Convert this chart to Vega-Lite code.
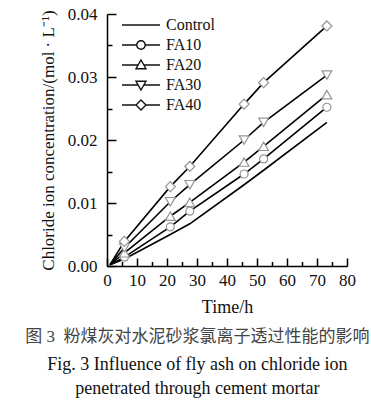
{
  "$schema": "https://vega.github.io/schema/vega-lite/v6.json",
  "width": 240,
  "height": 252,
  "autosize": {"type": "none"},
  "padding": {"left": 107, "top": 14, "right": 24, "bottom": 143},
  "background": "white",
  "config": {"view": {"stroke": null}, "font": "Liberation Serif", "axis": {"grid": false}},
  "title": {
    "text": "图 3\u00a0\u00a0粉煤灰对水泥砂浆氯离子透过性能的影响",
    "subtitle": ["Fig. 3 Influence of fly ash on chloride ion", "penetrated through cement mortar"],
    "orient": "bottom",
    "anchor": "middle",
    "frame": "bounds",
    "font": "Liberation Serif, Noto Sans CJK SC",
    "fontSize": 17,
    "fontWeight": "normal",
    "color": "#444444",
    "subtitleFont": "Liberation Serif",
    "subtitleFontSize": 18,
    "subtitleColor": "#111111",
    "subtitleLineHeight": 24,
    "subtitlePadding": 10,
    "offset": 13
  },
  "data": {
    "values": [
      {"series": "Control", "time": 1, "conc": 0.0002},
      {"series": "Control", "time": 5.8, "conc": 0.0011},
      {"series": "Control", "time": 21.1, "conc": 0.0050},
      {"series": "Control", "time": 27.6, "conc": 0.0067},
      {"series": "Control", "time": 45.7, "conc": 0.0129},
      {"series": "Control", "time": 52.2, "conc": 0.0152},
      {"series": "Control", "time": 73.3, "conc": 0.0228},
      {"series": "FA10", "time": 1, "conc": 0.0002},
      {"series": "FA10", "time": 5.8, "conc": 0.0014},
      {"series": "FA10", "time": 21.1, "conc": 0.0062},
      {"series": "FA10", "time": 27.6, "conc": 0.0087},
      {"series": "FA10", "time": 45.7, "conc": 0.0146},
      {"series": "FA10", "time": 52.2, "conc": 0.0170},
      {"series": "FA10", "time": 73.3, "conc": 0.0252},
      {"series": "FA20", "time": 1, "conc": 0.0002},
      {"series": "FA20", "time": 5.8, "conc": 0.0021},
      {"series": "FA20", "time": 21.1, "conc": 0.0079},
      {"series": "FA20", "time": 27.6, "conc": 0.0101},
      {"series": "FA20", "time": 45.7, "conc": 0.0165},
      {"series": "FA20", "time": 52.2, "conc": 0.0190},
      {"series": "FA20", "time": 73.3, "conc": 0.0272},
      {"series": "FA30", "time": 1, "conc": 0.0002},
      {"series": "FA30", "time": 5.8, "conc": 0.0029},
      {"series": "FA30", "time": 21.1, "conc": 0.0102},
      {"series": "FA30", "time": 27.6, "conc": 0.0129},
      {"series": "FA30", "time": 45.7, "conc": 0.0200},
      {"series": "FA30", "time": 52.2, "conc": 0.0228},
      {"series": "FA30", "time": 73.3, "conc": 0.0303},
      {"series": "FA40", "time": 1, "conc": 0.0002},
      {"series": "FA40", "time": 5.8, "conc": 0.0039},
      {"series": "FA40", "time": 21.1, "conc": 0.0126},
      {"series": "FA40", "time": 27.6, "conc": 0.0158},
      {"series": "FA40", "time": 45.7, "conc": 0.0257},
      {"series": "FA40", "time": 52.2, "conc": 0.0291},
      {"series": "FA40", "time": 73.3, "conc": 0.0381}
    ]
  },
  "layer": [
    {
      "mark": {"type": "line", "color": "black", "strokeWidth": 1.6},
      "encoding": {
        "x": {
          "field": "time", "type": "quantitative",
          "scale": {"domain": [0, 80], "nice": false, "zero": false},
          "axis": {
            "orient": "bottom",
            "values": [0, 10, 20, 30, 40, 50, 60, 70, 80],
            "tickSize": -8, "tickWidth": 1.5, "tickColor": "black",
            "domainColor": "black", "domainWidth": 1.5,
            "labelFont": "Liberation Serif", "labelFontSize": 17, "labelColor": "#111111",
            "labelPadding": 14, "labelFlush": false, "labelOverlap": false,
            "title": "Time/h", "titleFont": "Liberation Serif", "titleFontSize": 18,
            "titleFontWeight": "normal", "titleColor": "#111111", "titlePadding": 10
          }
        },
        "y": {
          "field": "conc", "type": "quantitative",
          "scale": {"domain": [0, 0.04], "nice": false},
          "axis": {
            "orient": "left",
            "values": [0, 0.01, 0.02, 0.03, 0.04],
            "format": ".2f",
            "tickSize": -9, "tickWidth": 1.5, "tickColor": "black",
            "domainColor": "black", "domainWidth": 1.5,
            "labelFont": "Liberation Serif", "labelFontSize": 17, "labelColor": "#111111",
            "labelPadding": 19, "labelFlush": false, "labelOverlap": false,
            "title": "Chloride ion concentration/(mol · L⁻¹)", "titleFont": "Liberation Serif",
            "titleFontSize": 17, "titleFontWeight": "normal", "titleColor": "#111111", "titlePadding": 10
          }
        },
        "detail": {"field": "series"}
      }
    },
    {
      "transform": [{"filter": "datum.series === 'FA10' && datum.time > 2"}],
      "mark": {"type": "point", "shape": "circle", "size": 64, "filled": true, "fill": "white", "stroke": "#959595", "strokeWidth": 1.2, "opacity": 1},
      "encoding": {
        "x": {
          "field": "time", "type": "quantitative",
          "axis": {
            "orient": "bottom",
            "values": [5, 15, 25, 35, 45, 55, 65, 75],
            "tickSize": -4.5, "tickWidth": 1.5, "tickColor": "black",
            "labels": false, "domain": false, "title": null
          }
        },
        "y": {
          "field": "conc", "type": "quantitative",
          "axis": {
            "orient": "left",
            "values": [0.005, 0.015, 0.025, 0.035],
            "tickSize": -5, "tickWidth": 1.5, "tickColor": "black",
            "labels": false, "domain": false, "title": null
          }
        }
      }
    },
    {
      "transform": [{"filter": "datum.series === 'FA20' && datum.time > 2"}],
      "mark": {"type": "point", "shape": "triangle-up", "size": 95, "filled": true, "fill": "white", "stroke": "#959595", "strokeWidth": 1.2, "opacity": 1},
      "encoding": {
        "x": {"field": "time", "type": "quantitative", "axis": null},
        "y": {"field": "conc", "type": "quantitative", "axis": null}
      }
    },
    {
      "transform": [{"filter": "datum.series === 'FA30' && datum.time > 2"}],
      "mark": {"type": "point", "shape": "triangle-down", "size": 95, "filled": true, "fill": "white", "stroke": "#959595", "strokeWidth": 1.2, "opacity": 1},
      "encoding": {
        "x": {"field": "time", "type": "quantitative", "axis": null},
        "y": {"field": "conc", "type": "quantitative", "axis": null}
      }
    },
    {
      "transform": [{"filter": "datum.series === 'FA40' && datum.time > 2"}],
      "mark": {"type": "point", "shape": "diamond", "size": 100, "filled": true, "fill": "white", "stroke": "#959595", "strokeWidth": 1.2, "opacity": 1},
      "encoding": {
        "x": {"field": "time", "type": "quantitative", "axis": null},
        "y": {"field": "conc", "type": "quantitative", "axis": null}
      }
    },
    {
      "transform": [{"filter": "datum.time > 70"}],
      "mark": {"type": "point", "filled": true, "fill": "white", "stroke": "#111111", "strokeWidth": 1.4, "opacity": 0},
      "encoding": {
        "x": {"field": "time", "type": "quantitative", "axis": null},
        "y": {"field": "conc", "type": "quantitative", "axis": null},
        "shape": {
          "field": "series", "type": "nominal",
          "scale": {
            "domain": ["Control", "FA10", "FA20", "FA30", "FA40"],
            "range": [
              "M-3.8,0H3.8",
              "M-3.8,0H-0.85M0.85,0H3.8M0.85,0A0.85,0.85,0,1,1,-0.85,0A0.85,0.85,0,1,1,0.85,0Z",
              "M-3.8,0H-0.57M0.57,0H3.8M0,-1L1,0.75L-1,0.75Z",
              "M-3.8,0H-0.57M0.57,0H3.8M0,1L1,-0.75L-1,-0.75Z",
              "M-3.8,0H-1M1,0H3.8M-1,0L0,-1L1,0L0,1Z"
            ]
          },
          "legend": {
            "orient": "none", "legendX": 26, "legendY": 3,
            "title": null, "padding": 0,
            "symbolSize": 100, "rowPadding": 4, "labelOffset": 17,
            "symbolOpacity": 1, "symbolFillColor": "white", "symbolStrokeColor": "#111111", "symbolStrokeWidth": 1.4,
            "labelFont": "Liberation Serif", "labelFontSize": 16, "labelColor": "#111111",
            "encoding": {
              "symbols": {
                "fill": {"value": "white"},
                "stroke": {"value": "#111111"},
                "strokeWidth": {"value": 1.4},
                "opacity": {"value": 1}
              }
            }
          }
        }
      }
    }
  ],
  "resolve": {"axis": {"x": "independent", "y": "independent"}}
}
